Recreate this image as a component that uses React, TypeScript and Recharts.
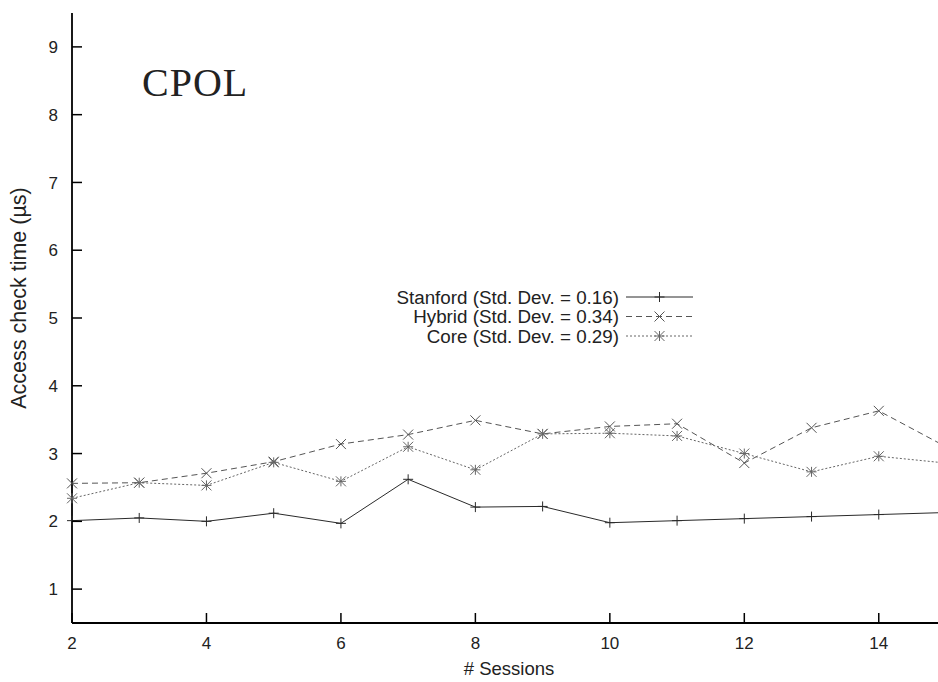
import React from "react";
import { LineChart, Line, XAxis, YAxis, Legend, Label } from "recharts";

const sessions = [2, 3, 4, 5, 6, 7, 8, 9, 10, 11, 12, 13, 14, 15];
const stanford = [2.01, 2.05, 2.0, 2.12, 1.97, 2.62, 2.21, 2.22, 1.98, 2.01, 2.04, 2.07, 2.1, 2.13];
const hybrid = [2.56, 2.57, 2.71, 2.88, 3.14, 3.28, 3.49, 3.29, 3.4, 3.44, 2.86, 3.38, 3.63, 3.1];
const core = [2.34, 2.57, 2.53, 2.87, 2.59, 3.1, 2.76, 3.29, 3.3, 3.26, 3.0, 2.73, 2.96, 2.86];
const xTicks = [2, 4, 6, 8, 10, 12, 14];
const yTicks = [1, 2, 3, 4, 5, 6, 7, 8, 9];
const legendLabels = [
  "Stanford (Std. Dev. = 0.16)",
  "Hybrid (Std. Dev. = 0.34)",
  "Core (Std. Dev. = 0.29)",
];

const data = sessions.map((x, i) => ({ x, stanford: stanford[i], hybrid: hybrid[i], core: core[i] }));

const FONT = "'Liberation Sans', Arial, Helvetica, sans-serif";
const TXT = "#222";
const R = 5;

function plusMark(cx: number, cy: number, color: string, key?: any) {
  return (
    <g key={key}>
      <line x1={cx - R} x2={cx + R} y1={cy} y2={cy} stroke={color} strokeWidth={1} />
      <line x1={cx} x2={cx} y1={cy - R} y2={cy + R} stroke={color} strokeWidth={1} />
    </g>
  );
}
function crossMark(cx: number, cy: number, color: string, key?: any) {
  return (
    <g key={key}>
      <line x1={cx - R} x2={cx + R} y1={cy - R} y2={cy + R} stroke={color} strokeWidth={1} />
      <line x1={cx - R} x2={cx + R} y1={cy + R} y2={cy - R} stroke={color} strokeWidth={1} />
    </g>
  );
}
function starMark(cx: number, cy: number, color: string, key?: any) {
  return (
    <g key={key}>
      <line x1={cx - R} x2={cx + R} y1={cy} y2={cy} stroke={color} strokeWidth={1} />
      <line x1={cx} x2={cx} y1={cy - R} y2={cy + R} stroke={color} strokeWidth={1} />
      <line x1={cx - R} x2={cx + R} y1={cy - R} y2={cy + R} stroke={color} strokeWidth={1} />
      <line x1={cx - R} x2={cx + R} y1={cy + R} y2={cy - R} stroke={color} strokeWidth={1} />
    </g>
  );
}

const series = [
  { key: "stanford", color: "#2a2a2a", dash: undefined as string | undefined, mark: plusMark },
  { key: "hybrid", color: "#555", dash: "6 4", mark: crossMark },
  { key: "core", color: "#666", dash: "2 2", mark: starMark },
];

const BottomTick = (props: any) => {
  const { x, y, payload } = props;
  return (
    <g>
      <line x1={x} x2={x} y1={y - 14} y2={y - 24} stroke="#000" strokeWidth={1.5} />
      <text x={x} y={y} dy="0.71em" textAnchor="middle" fontFamily={FONT} fontSize={17} fill={TXT}>
        {payload.value}
      </text>
    </g>
  );
};
const LeftTick = (props: any) => {
  const { x, y, payload } = props;
  return (
    <g>
      <line x1={x + 14} x2={x + 24} y1={y} y2={y} stroke="#000" strokeWidth={1.5} />
      <text x={x} y={y} dy="0.36em" textAnchor="end" fontFamily={FONT} fontSize={17} fill={TXT}>
        {payload.value}
      </text>
    </g>
  );
};
const TopTick = (props: any) => {
  const { x, y } = props;
  return <line x1={x} x2={x} y1={y} y2={y + 10} stroke="#000" strokeWidth={1.5} />;
};
const RightTick = (props: any) => {
  const { x, y } = props;
  return <line x1={x - 10} x2={x} y1={y} y2={y} stroke="#000" strokeWidth={1.5} />;
};

const LegendBox = () => (
  <svg width={330} height={70} style={{ display: "block" }}>
    {series.map((s, i) => {
      const cy = 15 + i * 19.5;
      return (
        <g key={s.key}>
          <text x={239} y={cy} dy="0.36em" textAnchor="end" fontFamily={FONT} fontSize={18.8} fill={TXT}>
            {legendLabels[i]}
          </text>
          <line x1={246} x2={313} y1={cy} y2={cy} stroke={s.color} strokeWidth={1} strokeDasharray={s.dash} />
          {s.mark(279.5, cy, s.color)}
        </g>
      );
    })}
  </svg>
);

const YLabel = (props: any) => {
  const vb = props.viewBox;
  const cx = vb.x + 18;
  const cy = vb.y + vb.height / 2 - 20;
  return (
    <text
      x={cx}
      y={cy}
      transform={`rotate(-90 ${cx} ${cy})`}
      textAnchor="middle"
      dy="0.36em"
      fontFamily={FONT}
      fontSize={21.5}
      fill={TXT}
    >
      Access check time (µs)
    </text>
  );
};

export default function App() {
  return (
    <div style={{ position: "absolute", left: 0, top: 0, width: 938, height: 682, overflow: "hidden", background: "#fff" }}>
      <LineChart width={960} height={682} data={data} margin={{ top: 13, right: 14, bottom: 0, left: 0 }}>
        <XAxis
          xAxisId="bottom"
          dataKey="x"
          type="number"
          domain={[2, 15]}
          ticks={xTicks}
          height={59}
          tickSize={0}
          tickMargin={14}
          tickLine={false}
          tick={<BottomTick />}
          axisLine={{ stroke: "#000", strokeWidth: 1.8 }}
          interval={0}
        >
          <Label
            value="# Sessions"
            position="insideBottom"
            offset={7}
            style={{ fontFamily: FONT, fontSize: 18.5, fill: TXT }}
          />
        </XAxis>
        <XAxis
          xAxisId="top"
          orientation="top"
          dataKey="x"
          type="number"
          domain={[2, 15]}
          ticks={xTicks}
          height={0}
          tickSize={0}
          tickMargin={0}
          tickLine={false}
          tick={<TopTick />}
          axisLine={{ stroke: "#000", strokeWidth: 1.8 }}
          interval={0}
        />
        <YAxis
          yAxisId="left"
          type="number"
          domain={[0.5, 9.5]}
          ticks={yTicks}
          width={72}
          tickSize={0}
          tickMargin={14}
          tickLine={false}
          tick={<LeftTick />}
          axisLine={{ stroke: "#000", strokeWidth: 1.8 }}
          interval={0}
        >
          <Label content={<YLabel />} />
        </YAxis>
        <YAxis
          yAxisId="right"
          orientation="right"
          type="number"
          domain={[0.5, 9.5]}
          ticks={yTicks}
          width={0}
          tickSize={0}
          tickMargin={0}
          tickLine={false}
          tick={<RightTick />}
          axisLine={{ stroke: "#000", strokeWidth: 1.8 }}
          interval={0}
        />
        {series.map((s) => (
          <Line
            key={s.key}
            xAxisId="bottom"
            yAxisId="left"
            type="linear"
            dataKey={s.key}
            stroke={s.color}
            strokeWidth={1}
            strokeDasharray={s.dash}
            dot={(p: any) => s.mark(p.cx, p.cy, s.color, `${s.key}-${p.index}`)}
            activeDot={false}
            isAnimationActive={false}
          />
        ))}
        <Legend
          layout="horizontal"
          verticalAlign="middle"
          align="center"
          content={<LegendBox />}
          wrapperStyle={{ left: 380, top: 282, width: 330, height: 70 }}
        />
      </LineChart>
      <div
        style={{
          position: "absolute",
          left: 142,
          top: 60,
          fontFamily: "'Liberation Serif', 'DejaVu Serif', serif",
          fontSize: 40,
          lineHeight: "46px",
          letterSpacing: "1px",
          color: "#222",
          pointerEvents: "none",
        }}
      >
        CPOL
      </div>
    </div>
  );
}
